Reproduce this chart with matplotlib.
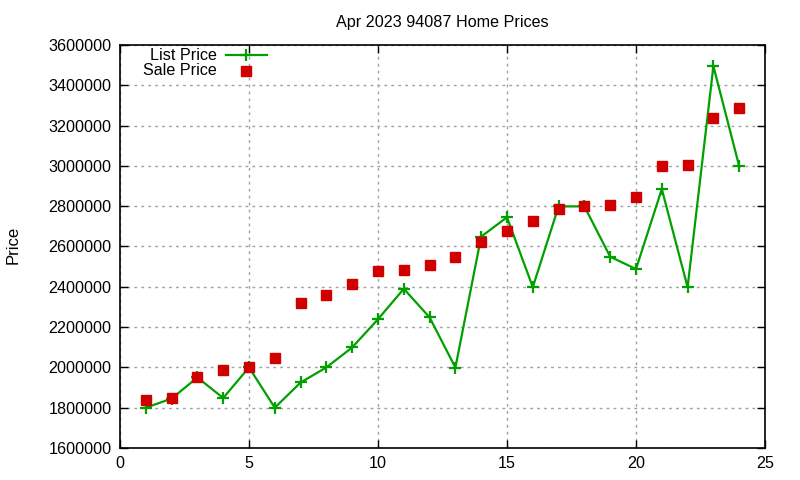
import numpy as np
import matplotlib
matplotlib.use('Agg')
import matplotlib.pyplot as plt
from matplotlib.lines import Line2D

plt.rcParams['font.family'] = ['Liberation Sans', 'DejaVu Sans']

# data
idx = list(range(1, 25))
list_price = [1800000, 1845000, 1950000, 1848000, 2000000, 1800000, 1925000, 2000000,
              2099000, 2239000, 2390000, 2248000, 1999000, 2649000, 2745000, 2398000,
              2799000, 2799000, 2549000, 2488000, 2885000, 2398000, 3495000, 2998000]
sale_price = [1836000, 1849000, 1950000, 1988000, 2003000, 2048000, 2321000, 2359000,
              2414000, 2480000, 2485000, 2510000, 2549000, 2624000, 2678000, 2728000,
              2787000, 2799000, 2806000, 2847000, 3001000, 3006000, 3239000, 3289000]

xticks = [0, 5, 10, 15, 20, 25]
yticks = list(range(1600000, 3600001, 200000))

green = '#00a000'
red = '#d00000'
fs = 11.6

fig = plt.figure(figsize=(8, 4.8), dpi=100)
ax = fig.add_axes([0.15, 0.0667, 0.80625, 0.8396])

ax.plot(idx, list_price, color=green, lw=1.6, marker='+', ms=8, mew=1.6, zorder=3)
ax.plot(idx, sale_price, ls='none', marker='s', ms=6.5, color=red, zorder=4)

ax.set_xlim(0, 25)
ax.set_ylim(1600000, 3600000)
ax.set_xticks(xticks)
ax.set_yticks(yticks)
ax.set_yticklabels([str(v) for v in yticks])
ax.tick_params(direction='in', top=True, right=True, labelsize=fs, length=6, width=1, pad=6)
ax.grid(True, color='#a0a0a0', ls=(0, (2, 3)), lw=1)
for s in ax.spines.values():
    s.set_linewidth(1.2)

ax.set_title('Apr 2023 94087 Home Prices', fontsize=fs, pad=13)
fig.text(0.016, 0.49, 'Price', rotation=90, fontsize=fs + 0.5, va='center', ha='center')

# gnuplot style key, text right aligned to the left of the sample
ax.text(0.150, 0.975, 'List Price', transform=ax.transAxes, ha='right', va='center', fontsize=fs)
ax.text(0.150, 0.9355, 'Sale Price', transform=ax.transAxes, ha='right', va='center', fontsize=fs)
ax.add_line(Line2D([0.164, 0.228], [0.975, 0.975], transform=ax.transAxes, color=green, lw=1.6))
ax.add_line(Line2D([0.195], [0.975], transform=ax.transAxes, color=green, marker='+', ms=8, mew=1.6))
ax.add_line(Line2D([0.195], [0.9355], transform=ax.transAxes, color=red, marker='s', ms=6.5, ls='none'))

fig.savefig('out.png', dpi=100)
